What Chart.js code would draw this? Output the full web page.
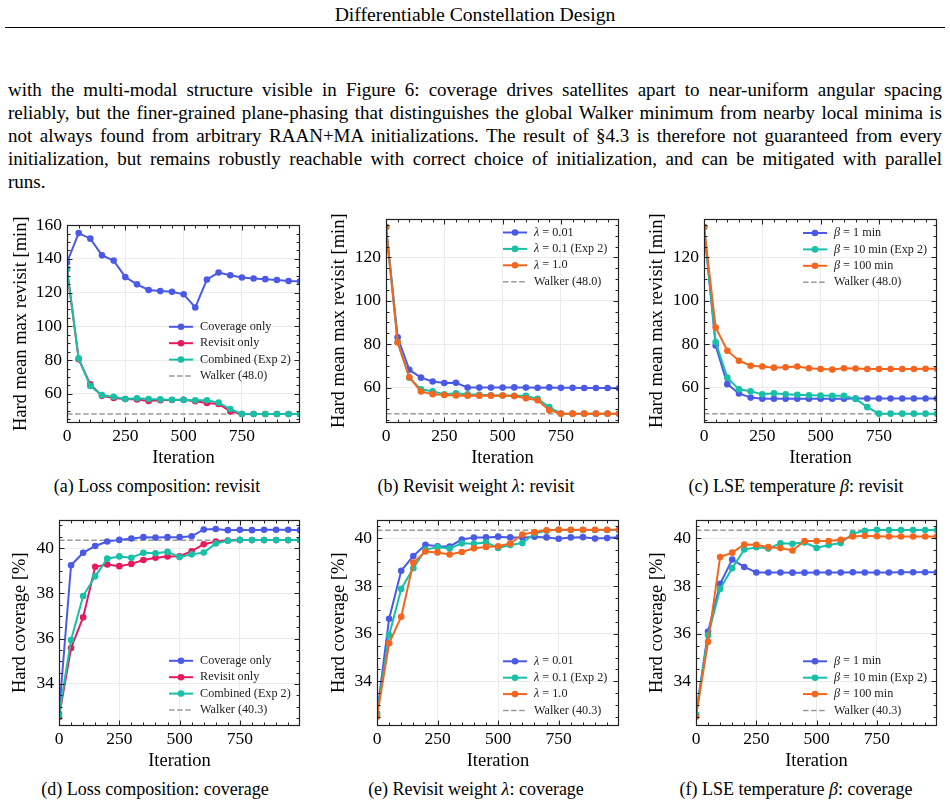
<!DOCTYPE html>
<html><head><meta charset="utf-8">
<script src="https://cdn.jsdelivr.net/npm/chart.js@4.4.0/dist/chart.umd.min.js"></script>
<style>
body{margin:0;background:#fff;width:950px;height:803px;position:relative;overflow:hidden;font-family:"Liberation Serif","Times New Roman",serif;color:#000}
#hdr{position:absolute;left:0;width:950px;top:3px;line-height:22px;text-align:center;font-size:19.7px}
#rule{position:absolute;left:5px;width:940px;top:27px;height:0;border-top:1px solid #000}
#para{position:absolute;left:8px;width:934px;top:78px;font-size:19px;line-height:23px}
#para div{text-align:justify;text-align-last:justify}
#para div.last{text-align-last:left}
.cap{position:absolute;font-size:18px;line-height:20px;text-align:center;width:320px}
canvas{position:absolute}
</style></head><body>
<div id="hdr">Differentiable Constellation Design</div>
<div id="rule"></div>
<div id="para">
<div>with the multi-modal structure visible in Figure 6: coverage drives satellites apart to near-uniform angular spacing</div>
<div>reliably, but the finer-grained plane-phasing that distinguishes the global Walker minimum from nearby local minima is</div>
<div>not always found from arbitrary RAAN+MA initializations. The result of §4.3 is therefore not guaranteed from every</div>
<div>initialization, but remains robustly reachable with correct choice of initialization, and can be mitigated with parallel</div>
<div class="last">runs.</div>
</div>
<div class="cap" style="left:-3px;top:476px">(a) Loss composition: revisit</div>
<div class="cap" style="left:316px;top:476px">(b) Revisit weight <i>λ</i>: revisit</div>
<div class="cap" style="left:636px;top:476px">(c) LSE temperature <i>β</i>: revisit</div>
<div class="cap" style="left:-5px;top:779px">(d) Loss composition: coverage</div>
<div class="cap" style="left:316px;top:779px">(e) Revisit weight <i>λ</i>: coverage</div>
<div class="cap" style="left:636px;top:779px">(f) LSE temperature <i>β</i>: coverage</div>
<canvas id="ca"></canvas><canvas id="cb"></canvas><canvas id="cc"></canvas>
<canvas id="cd"></canvas><canvas id="ce"></canvas><canvas id="cf"></canvas>
<script>
// ---------- data ----------
const iterations = [0,50,100,150,200,250,300,350,400,450,500,550,600,650,700,750,800,850,900,950,999];

// Hard mean max revisit [min]
const revCoverageOnly = [137.9,155.3,152.0,142.1,139.0,129.2,124.9,121.6,120.9,120.5,119.0,111.2,127.8,131.9,130.3,129.0,128.4,128.0,127.5,126.9,126.7];
const revRevisitOnly  = [134.0,80.5,65.6,58.8,57.5,56.9,56.7,55.8,56.2,56.3,56.5,55.6,54.6,54.0,49.6,48.0,48.0,48.0,48.0,48.0,48.0];
const revExp2         = [134.0,81.0,64.6,59.2,58.3,56.9,57.4,56.9,56.7,56.5,56.4,56.2,56.2,54.8,51.0,48.0,48.0,48.0,48.0,48.0,48.0];
const revLambda001    = [134.0,83.2,68.2,64.6,62.8,62.1,62.2,60.0,60.0,60.0,60.0,60.1,60.0,59.9,60.1,59.9,59.9,59.8,59.8,59.8,59.7];
const revLambda1      = [134.0,80.8,64.8,58.2,57.0,56.6,56.4,56.3,56.3,56.3,56.4,56.1,55.1,54.2,49.6,48.0,48.0,48.0,48.0,48.0,48.0];
const revBeta1        = [134.0,79.4,61.6,57.3,55.4,54.9,54.9,54.9,54.9,54.9,54.9,54.9,54.9,55.0,55.0,55.0,55.0,55.0,55.0,55.0,55.0];
const revBeta100      = [134.0,87.7,77.0,72.4,70.1,69.7,69.2,69.4,69.7,68.9,68.6,68.3,68.9,68.8,68.6,68.6,68.6,68.6,68.6,68.7,68.7];

// Hard coverage [%]
const covCoverageOnly = [32.68,39.24,39.79,40.09,40.29,40.36,40.42,40.48,40.46,40.48,40.48,40.52,40.82,40.84,40.79,40.81,40.79,40.81,40.81,40.81,40.79];
const covRevisitOnly  = [32.54,35.58,36.94,39.17,39.27,39.20,39.30,39.47,39.57,39.63,39.64,39.86,40.17,40.29,40.33,40.35,40.35,40.35,40.35,40.35,40.35];
const covExp2         = [32.62,35.94,37.88,38.75,39.53,39.63,39.57,39.79,39.77,39.83,39.60,39.72,39.80,40.20,40.32,40.36,40.35,40.35,40.35,40.35,40.35];
const covLambda001    = [32.65,36.63,38.64,39.26,39.73,39.67,39.66,39.95,40.03,40.04,40.07,40.04,40.03,40.07,40.04,39.98,40.04,40.05,39.99,40.01,40.05];
const covLambda1      = [32.52,35.60,36.71,38.98,39.45,39.41,39.32,39.43,39.58,39.64,39.67,39.78,40.16,40.26,40.34,40.36,40.36,40.36,40.36,40.36,40.36];
const covBeta1        = [32.60,36.09,38.09,39.11,38.80,38.57,38.57,38.57,38.56,38.56,38.57,38.57,38.57,38.58,38.57,38.57,38.57,38.58,38.58,38.58,38.58];
const covBeta100      = [32.52,35.66,39.22,39.40,39.74,39.73,39.63,39.59,39.49,39.89,39.89,39.89,39.94,40.08,40.11,40.09,40.08,40.08,40.08,40.08,40.08];

const walkerRevisit = 48.0;
const walkerCoverage = 40.34;
const xTickLabels = [0,250,500,750];

const labelsLoss   = ['Coverage only','Revisit only','Combined (Exp 2)'];
const labelsLambda = ['λ = 0.01','λ = 0.1 (Exp 2)','λ = 1.0'];
const labelsBeta   = ['β = 1 min','β = 10 min (Exp 2)','β = 100 min'];

// ---------- styles ----------
const BLUE='#4a5ae6', RED='#e8195d', TEAL='#17c0a6', ORANGE='#f4651e', GREY='#9a9a9a';
const FONT='"Liberation Serif","Times New Roman",serif';

function series(label, vals, color, order){
  return {label, data: iterations.map((x,i)=>({x, y: vals[i]})), borderColor: color, backgroundColor: color,
    borderWidth: 2, pointRadius: 3.3, pointHoverRadius: 3.3, pointBorderWidth: 0, tension: 0, order};
}
function walker(label, v){
  return {label, data:[{x:iterations[0],y:v},{x:iterations[iterations.length-1],y:v}], borderColor: GREY, backgroundColor: GREY,
    borderWidth: 1.5, borderDash:[5.5,2.6], pointRadius: 0, order: 10};
}

const framePlugin = {
  id:'frame',
  afterDatasetsDraw(chart){
    const o = chart.options.plugins.frame; const {ctx, chartArea:ca, scales:{x,y}} = chart;
    ctx.save(); ctx.strokeStyle='#222'; ctx.lineWidth=1;
    const L=Math.round(ca.left)+0.5, R=Math.round(ca.right)-0.5, T=Math.round(ca.top)+0.5, B=Math.round(ca.bottom)-0.5;
    ctx.beginPath();
    for (let v=Math.ceil(x.min/o.xMinor)*o.xMinor; v<=x.max; v+=o.xMinor){
      const major = Math.abs(v/o.xMajor-Math.round(v/o.xMajor))<1e-6; const len = major?5:3;
      const px = Math.round(x.getPixelForValue(v))+0.5;
      ctx.moveTo(px,B); ctx.lineTo(px,B-len); ctx.moveTo(px,T); ctx.lineTo(px,T+len);
    }
    for (let k=Math.ceil(y.min/o.yMinor); k*o.yMinor<=y.max; k++){
      const v=k*o.yMinor;
      const major = Math.abs(v/o.yMajor-Math.round(v/o.yMajor))<1e-6; const len = major?5:3;
      const py = Math.round(y.getPixelForValue(v))+0.5;
      ctx.moveTo(L,py); ctx.lineTo(L+len,py); ctx.moveTo(R,py); ctx.lineTo(R-len,py);
    }
    ctx.stroke();
    ctx.lineWidth=1.2; ctx.strokeRect(L,T,R-L,B-T);
    ctx.restore();
  }
};

const legendPlugin = {
  id:'insideLegend',
  afterDraw(chart){
    const o = chart.options.plugins.insideLegend; if(!o) return;
    const {ctx, chartArea:ca} = chart;
    const items = chart.data.datasets; const n = items.length; const rowH = 16.4;
    const x0 = ca.right - o.dx;
    const y0 = o.anchor==='top' ? ca.top + o.dy : ca.bottom - o.dy - (n-1)*rowH;
    items.forEach((ds,i)=>{
      const yy = y0 + i*rowH;
      ctx.save();
      ctx.strokeStyle = ds.borderColor; ctx.lineWidth = ds.borderWidth; ctx.setLineDash(ds.borderDash||[]);
      ctx.beginPath(); ctx.moveTo(x0,yy); ctx.lineTo(x0+24,yy); ctx.stroke();
      if (ds.pointRadius>0){ ctx.fillStyle = ds.backgroundColor; ctx.beginPath(); ctx.arc(x0+12,yy,ds.pointRadius,0,Math.PI*2); ctx.fill(); }
      ctx.fillStyle='#222'; ctx.textBaseline='middle'; ctx.textAlign='left';
      let cx = x0+31; const t = ds.label; const m = t.match(/^([λβ])(.*)$/);
      if (m){ ctx.font='italic 12.2px '+FONT; ctx.fillText(m[1],cx,yy); cx += ctx.measureText(m[1]).width;
              ctx.font='12.2px '+FONT; ctx.fillText(m[2],cx,yy); }
      else { ctx.font='12.2px '+FONT; ctx.fillText(t,cx,yy); }
      ctx.restore();
    });
  }
};

function makePanel(id, g, yr, yMajor, yMinor, yTitle, datasets, leg){
  const cv = document.getElementById(id);
  const padTop = 10, padRight = 10;
  const left = g.titleX - 11, top = g.T - padTop;
  const w = g.R + padRight - left, h = g.B + g.xH - top;
  cv.width = w; cv.height = h; cv.style.left = left+'px'; cv.style.top = top+'px';
  cv.style.width = w+'px'; cv.style.height = h+'px';
  const yW = g.L - left;
  const yMajors = []; for (let k=Math.ceil(yr[0]/yMajor); k*yMajor<=yr[1]; k++) yMajors.push({value:k*yMajor});
  new Chart(cv, {
    type:'line',
    data:{datasets},
    options:{
      responsive:false, devicePixelRatio:1, animation:false,
      layout:{padding:{top:padTop,right:padRight,left:0,bottom:0}},
      plugins:{legend:{display:false}, tooltip:{enabled:false},
        frame:{xMajor:250,xMinor:50,yMajor,yMinor}, insideLegend:leg},
      scales:{
        x:{type:'linear', min:0, max:999,
          afterBuildTicks(s){ s.ticks = xTickLabels.map(v=>({value:v})); },
          afterFit(s){ s.height = g.xH; },
          ticks:{font:{family:FONT,size:17.5}, color:'#000', padding:3, maxRotation:0, callback:v=>String(v)},
          grid:{color:'#ebebeb', lineWidth:1, drawTicks:false}, border:{display:false},
          title:{display:true, text:'Iteration', font:{family:FONT,size:18.5}, color:'#000', padding:{top:0,bottom:0}}},
        y:{type:'linear', min:yr[0], max:yr[1],
          afterBuildTicks(s){ s.ticks = yMajors.map(t=>({value:t.value})); },
          afterFit(s){ s.width = yW; },
          ticks:{font:{family:FONT,size:17.5}, color:'#000', padding:5, callback:v=>String(Math.round(v*100)/100)},
          grid:{color:'#ebebeb', lineWidth:1, drawTicks:false}, border:{display:false},
          title:{display:true, text:yTitle, font:{family:FONT,size:18.5}, color:'#000', padding:{top:0,bottom:0}}}
      }
    },
    plugins:[framePlugin, legendPlugin]
  });
}

const REV_T='Hard mean max revisit [min]', COV_T='Hard coverage [%]';
makePanel('ca',{titleX:21,L:67,T:219,R:300,B:423,xH:46},[42.7,160.4],20,5,REV_T,
  [series(labelsLoss[0],revCoverageOnly,BLUE,3),series(labelsLoss[1],revRevisitOnly,RED,2),series(labelsLoss[2],revExp2,TEAL,1),walker('Walker (48.0)',walkerRevisit)],
  {anchor:'bottom',dx:131,dy:47});
makePanel('cb',{titleX:339,L:386,T:213,R:619,B:423,xH:46},[43.7,137.9],20,5,REV_T,
  [series(labelsLambda[0],revLambda001,BLUE,3),series(labelsLambda[1],revExp2,TEAL,2),series(labelsLambda[2],revLambda1,ORANGE,1),walker('Walker (48.0)',walkerRevisit)],
  {anchor:'top',dx:116,dy:14});
makePanel('cc',{titleX:657,L:704,T:213,R:937,B:423,xH:46},[43.7,137.9],20,5,REV_T,
  [series(labelsBeta[0],revBeta1,BLUE,3),series(labelsBeta[1],revExp2,TEAL,2),series(labelsBeta[2],revBeta100,ORANGE,1),walker('Walker (48.0)',walkerRevisit)],
  {anchor:'top',dx:134,dy:14.5});
makePanel('cd',{titleX:20,L:59,T:514,R:300,B:726,xH:46},[32.14,41.26],2,0.5,COV_T,
  [series(labelsLoss[0],covCoverageOnly,BLUE,3),series(labelsLoss[1],covRevisitOnly,RED,2),series(labelsLoss[2],covExp2,TEAL,1),walker('Walker (40.3)',walkerCoverage)],
  {anchor:'bottom',dx:131,dy:16});
makePanel('ce',{titleX:339,L:377,T:514,R:619,B:726,xH:46},[32.13,40.79],2,0.5,COV_T,
  [series(labelsLambda[0],covLambda001,BLUE,3),series(labelsLambda[1],covExp2,TEAL,2),series(labelsLambda[2],covLambda1,ORANGE,1),walker('Walker (40.3)',walkerCoverage)],
  {anchor:'bottom',dx:116,dy:15.5});
makePanel('cf',{titleX:657,L:696,T:514,R:937,B:726,xH:46},[32.13,40.79],2,0.5,COV_T,
  [series(labelsBeta[0],covBeta1,BLUE,3),series(labelsBeta[1],covExp2,TEAL,2),series(labelsBeta[2],covBeta100,ORANGE,1),walker('Walker (40.3)',walkerCoverage)],
  {anchor:'bottom',dx:134,dy:15.5});
</script>
</body></html>
